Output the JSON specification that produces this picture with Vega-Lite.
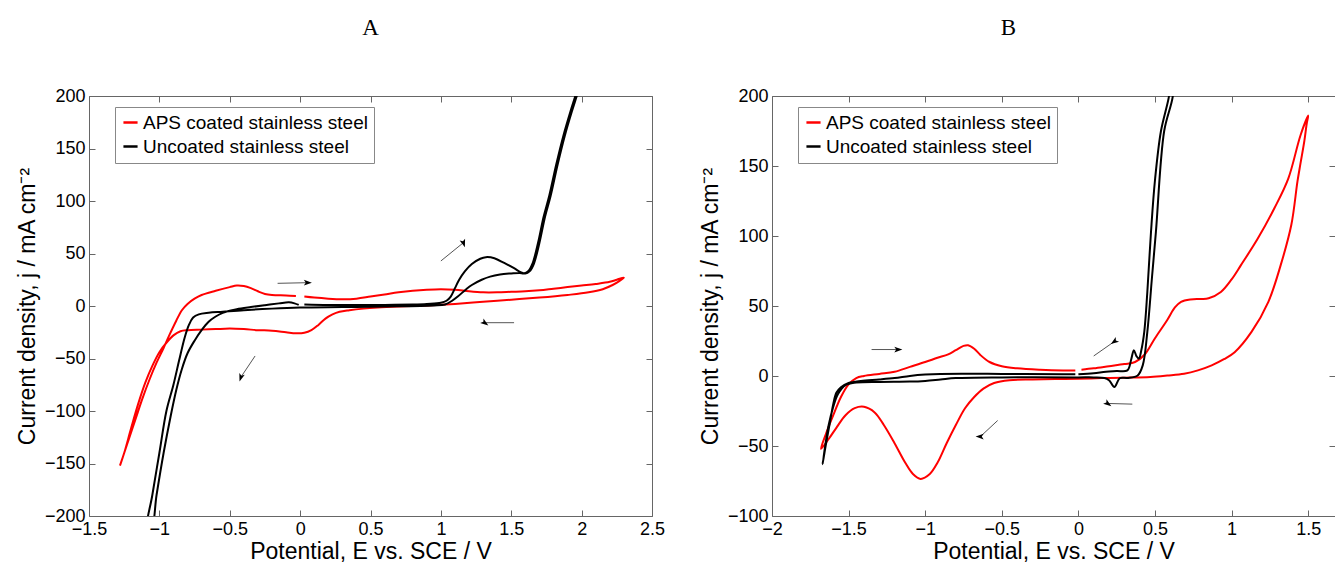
{
  "$schema": "https://vega.github.io/schema/vega-lite/v6.json",
  "background": "white",
  "padding": {"left": 16, "top": 17, "right": 0, "bottom": 0},
  "bounds": "flush",
  "spacing": 120,
  "datasets": {
    "cvA": [
      {"series":"APS coated stainless steel","E":0.03,"j":9},{"series":"APS coated stainless steel","E":0.1,"j":8},{"series":"APS coated stainless steel","E":0.2,"j":7},{"series":"APS coated stainless steel","E":0.3,"j":6.5},{"series":"APS coated stainless steel","E":0.4,"j":7},{"series":"APS coated stainless steel","E":0.5,"j":9},{"series":"APS coated stainless steel","E":0.6,"j":11},{"series":"APS coated stainless steel","E":0.7,"j":13},{"series":"APS coated stainless steel","E":0.8,"j":14.5},{"series":"APS coated stainless steel","E":0.9,"j":15.5},{"series":"APS coated stainless steel","E":1.0,"j":16},{"series":"APS coated stainless steel","E":1.1,"j":15.5},{"series":"APS coated stainless steel","E":1.2,"j":14},{"series":"APS coated stainless steel","E":1.3,"j":13},{"series":"APS coated stainless steel","E":1.4,"j":13},{"series":"APS coated stainless steel","E":1.5,"j":13.5},{"series":"APS coated stainless steel","E":1.6,"j":14},{"series":"APS coated stainless steel","E":1.7,"j":15},{"series":"APS coated stainless steel","E":1.8,"j":16.5},{"series":"APS coated stainless steel","E":1.9,"j":18},{"series":"APS coated stainless steel","E":2.0,"j":19.5},{"series":"APS coated stainless steel","E":2.1,"j":21},{"series":"APS coated stainless steel","E":2.2,"j":23},{"series":"APS coated stainless steel","E":2.25,"j":25},{"series":"APS coated stainless steel","E":2.3,"j":27},
      {"series":"APS coated stainless steel","E":2.27,"j":24},{"series":"APS coated stainless steel","E":2.22,"j":20},{"series":"APS coated stainless steel","E":2.15,"j":16},{"series":"APS coated stainless steel","E":2.05,"j":13},{"series":"APS coated stainless steel","E":1.9,"j":10.5},{"series":"APS coated stainless steel","E":1.7,"j":8},{"series":"APS coated stainless steel","E":1.5,"j":6},{"series":"APS coated stainless steel","E":1.3,"j":4},{"series":"APS coated stainless steel","E":1.1,"j":2},{"series":"APS coated stainless steel","E":0.9,"j":0.5},{"series":"APS coated stainless steel","E":0.7,"j":-0.5},{"series":"APS coated stainless steel","E":0.55,"j":-1.5},{"series":"APS coated stainless steel","E":0.45,"j":-2.5},{"series":"APS coated stainless steel","E":0.35,"j":-4},{"series":"APS coated stainless steel","E":0.28,"j":-5.5},{"series":"APS coated stainless steel","E":0.23,"j":-8},{"series":"APS coated stainless steel","E":0.18,"j":-12},{"series":"APS coated stainless steel","E":0.13,"j":-18},{"series":"APS coated stainless steel","E":0.08,"j":-23},{"series":"APS coated stainless steel","E":0.03,"j":-25.5},{"series":"APS coated stainless steel","E":-0.03,"j":-26},{"series":"APS coated stainless steel","E":-0.1,"j":-25},{"series":"APS coated stainless steel","E":-0.2,"j":-23.5},{"series":"APS coated stainless steel","E":-0.3,"j":-23},{"series":"APS coated stainless steel","E":-0.4,"j":-22},{"series":"APS coated stainless steel","E":-0.5,"j":-21.5},{"series":"APS coated stainless steel","E":-0.6,"j":-22},{"series":"APS coated stainless steel","E":-0.7,"j":-22.5},{"series":"APS coated stainless steel","E":-0.8,"j":-23},{"series":"APS coated stainless steel","E":-0.85,"j":-24},{"series":"APS coated stainless steel","E":-0.9,"j":-28},{"series":"APS coated stainless steel","E":-0.95,"j":-35},{"series":"APS coated stainless steel","E":-1.0,"j":-44},{"series":"APS coated stainless steel","E":-1.05,"j":-57},{"series":"APS coated stainless steel","E":-1.1,"j":-73},{"series":"APS coated stainless steel","E":-1.15,"j":-93},{"series":"APS coated stainless steel","E":-1.2,"j":-116},{"series":"APS coated stainless steel","E":-1.25,"j":-140},{"series":"APS coated stainless steel","E":-1.28,"j":-152},
      {"series":"APS coated stainless steel","E":-1.26,"j":-144},{"series":"APS coated stainless steel","E":-1.22,"j":-128},{"series":"APS coated stainless steel","E":-1.17,"j":-108},{"series":"APS coated stainless steel","E":-1.12,"j":-88},{"series":"APS coated stainless steel","E":-1.07,"j":-70},{"series":"APS coated stainless steel","E":-1.02,"j":-54},{"series":"APS coated stainless steel","E":-0.97,"j":-40},{"series":"APS coated stainless steel","E":-0.93,"j":-28},{"series":"APS coated stainless steel","E":-0.88,"j":-14},{"series":"APS coated stainless steel","E":-0.84,"j":-4},{"series":"APS coated stainless steel","E":-0.8,"j":2},{"series":"APS coated stainless steel","E":-0.75,"j":7},{"series":"APS coated stainless steel","E":-0.7,"j":10.5},{"series":"APS coated stainless steel","E":-0.6,"j":14.5},{"series":"APS coated stainless steel","E":-0.5,"j":18},{"series":"APS coated stainless steel","E":-0.45,"j":19.5},{"series":"APS coated stainless steel","E":-0.4,"j":19},{"series":"APS coated stainless steel","E":-0.35,"j":17},{"series":"APS coated stainless steel","E":-0.3,"j":14},{"series":"APS coated stainless steel","E":-0.25,"j":11.5},{"series":"APS coated stainless steel","E":-0.2,"j":10.5},{"series":"APS coated stainless steel","E":-0.1,"j":10},{"series":"APS coated stainless steel","E":-0.03,"j":9.5},
      {"series":"Uncoated stainless steel","E":0.03,"j":1.5},{"series":"Uncoated stainless steel","E":0.2,"j":1},{"series":"Uncoated stainless steel","E":0.4,"j":1},{"series":"Uncoated stainless steel","E":0.6,"j":1},{"series":"Uncoated stainless steel","E":0.8,"j":1.5},{"series":"Uncoated stainless steel","E":0.9,"j":2},{"series":"Uncoated stainless steel","E":1.0,"j":3},{"series":"Uncoated stainless steel","E":1.04,"j":5},{"series":"Uncoated stainless steel","E":1.07,"j":9},{"series":"Uncoated stainless steel","E":1.1,"j":17},{"series":"Uncoated stainless steel","E":1.13,"j":25},{"series":"Uncoated stainless steel","E":1.17,"j":33},{"series":"Uncoated stainless steel","E":1.22,"j":40},{"series":"Uncoated stainless steel","E":1.28,"j":45},{"series":"Uncoated stainless steel","E":1.32,"j":46.5},{"series":"Uncoated stainless steel","E":1.38,"j":45.5},{"series":"Uncoated stainless steel","E":1.45,"j":41},{"series":"Uncoated stainless steel","E":1.52,"j":36},{"series":"Uncoated stainless steel","E":1.57,"j":32},{"series":"Uncoated stainless steel","E":1.6,"j":31},{"series":"Uncoated stainless steel","E":1.63,"j":33},{"series":"Uncoated stainless steel","E":1.66,"j":40},{"series":"Uncoated stainless steel","E":1.7,"j":60},{"series":"Uncoated stainless steel","E":1.74,"j":85},{"series":"Uncoated stainless steel","E":1.78,"j":105},{"series":"Uncoated stainless steel","E":1.83,"j":135},{"series":"Uncoated stainless steel","E":1.88,"j":162},{"series":"Uncoated stainless steel","E":1.93,"j":185},{"series":"Uncoated stainless steel","E":1.97,"j":202},{"series":"Uncoated stainless steel","E":2.01,"j":220},
      {"series":"Uncoated stainless steel","E":2.0,"j":220},{"series":"Uncoated stainless steel","E":1.96,"j":202},{"series":"Uncoated stainless steel","E":1.92,"j":185},{"series":"Uncoated stainless steel","E":1.87,"j":162},{"series":"Uncoated stainless steel","E":1.82,"j":135},{"series":"Uncoated stainless steel","E":1.77,"j":105},{"series":"Uncoated stainless steel","E":1.73,"j":85},{"series":"Uncoated stainless steel","E":1.69,"j":60},{"series":"Uncoated stainless steel","E":1.65,"j":40},{"series":"Uncoated stainless steel","E":1.62,"j":33},{"series":"Uncoated stainless steel","E":1.59,"j":31},{"series":"Uncoated stainless steel","E":1.56,"j":31.5},{"series":"Uncoated stainless steel","E":1.5,"j":31},{"series":"Uncoated stainless steel","E":1.42,"j":30},{"series":"Uncoated stainless steel","E":1.35,"j":28},{"series":"Uncoated stainless steel","E":1.29,"j":25},{"series":"Uncoated stainless steel","E":1.22,"j":20},{"series":"Uncoated stainless steel","E":1.18,"j":16},{"series":"Uncoated stainless steel","E":1.12,"j":9},{"series":"Uncoated stainless steel","E":1.08,"j":5},{"series":"Uncoated stainless steel","E":1.03,"j":1.5},{"series":"Uncoated stainless steel","E":0.95,"j":0.5},{"series":"Uncoated stainless steel","E":0.6,"j":-0.5},{"series":"Uncoated stainless steel","E":0.3,"j":-1},{"series":"Uncoated stainless steel","E":0,"j":-1.5},{"series":"Uncoated stainless steel","E":-0.2,"j":-2.5},{"series":"Uncoated stainless steel","E":-0.4,"j":-4},{"series":"Uncoated stainless steel","E":-0.55,"j":-5.5},{"series":"Uncoated stainless steel","E":-0.65,"j":-6.5},{"series":"Uncoated stainless steel","E":-0.72,"j":-8},{"series":"Uncoated stainless steel","E":-0.76,"j":-11},{"series":"Uncoated stainless steel","E":-0.79,"j":-18},{"series":"Uncoated stainless steel","E":-0.82,"j":-30},{"series":"Uncoated stainless steel","E":-0.86,"j":-52},{"series":"Uncoated stainless steel","E":-0.9,"j":-75},{"series":"Uncoated stainless steel","E":-0.95,"j":-100},{"series":"Uncoated stainless steel","E":-1.0,"j":-140},{"series":"Uncoated stainless steel","E":-1.05,"j":-180},{"series":"Uncoated stainless steel","E":-1.09,"j":-215},
      {"series":"Uncoated stainless steel","E":-1.06,"j":-215},{"series":"Uncoated stainless steel","E":-1.02,"j":-180},{"series":"Uncoated stainless steel","E":-0.97,"j":-140},{"series":"Uncoated stainless steel","E":-0.92,"j":-105},{"series":"Uncoated stainless steel","E":-0.88,"j":-80},{"series":"Uncoated stainless steel","E":-0.84,"j":-60},{"series":"Uncoated stainless steel","E":-0.8,"j":-45},{"series":"Uncoated stainless steel","E":-0.75,"j":-33},{"series":"Uncoated stainless steel","E":-0.7,"j":-23},{"series":"Uncoated stainless steel","E":-0.65,"j":-15},{"series":"Uncoated stainless steel","E":-0.6,"j":-10},{"series":"Uncoated stainless steel","E":-0.55,"j":-6.5},{"series":"Uncoated stainless steel","E":-0.5,"j":-4.5},{"series":"Uncoated stainless steel","E":-0.45,"j":-3},{"series":"Uncoated stainless steel","E":-0.35,"j":-1},{"series":"Uncoated stainless steel","E":-0.25,"j":0.8},{"series":"Uncoated stainless steel","E":-0.15,"j":2.5},{"series":"Uncoated stainless steel","E":-0.08,"j":3.5},{"series":"Uncoated stainless steel","E":-0.04,"j":2.5},{"series":"Uncoated stainless steel","E":-0.01,"j":1}
    ],
    "cvB": [
      {"series":"APS coated stainless steel","E":0.02,"j":4.5},{"series":"APS coated stainless steel","E":0.1,"j":5.5},{"series":"APS coated stainless steel","E":0.2,"j":7},{"series":"APS coated stainless steel","E":0.3,"j":8.5},{"series":"APS coated stainless steel","E":0.37,"j":10},{"series":"APS coated stainless steel","E":0.43,"j":15},{"series":"APS coated stainless steel","E":0.5,"j":27},{"series":"APS coated stainless steel","E":0.58,"j":40},{"series":"APS coated stainless steel","E":0.63,"j":49},{"series":"APS coated stainless steel","E":0.67,"j":53},{"series":"APS coated stainless steel","E":0.73,"j":54.7},{"series":"APS coated stainless steel","E":0.8,"j":55},{"series":"APS coated stainless steel","E":0.85,"j":55.5},{"series":"APS coated stainless steel","E":0.93,"j":60},{"series":"APS coated stainless steel","E":1.0,"j":69},{"series":"APS coated stainless steel","E":1.06,"j":79},{"series":"APS coated stainless steel","E":1.17,"j":98},{"series":"APS coated stainless steel","E":1.28,"j":120},{"series":"APS coated stainless steel","E":1.37,"j":141},{"series":"APS coated stainless steel","E":1.45,"j":172},{"series":"APS coated stainless steel","E":1.5,"j":186},
      {"series":"APS coated stainless steel","E":1.49,"j":180},{"series":"APS coated stainless steel","E":1.475,"j":168},{"series":"APS coated stainless steel","E":1.45,"j":152},{"series":"APS coated stainless steel","E":1.43,"j":139},{"series":"APS coated stainless steel","E":1.39,"j":108},{"series":"APS coated stainless steel","E":1.32,"j":79},{"series":"APS coated stainless steel","E":1.24,"j":53},{"series":"APS coated stainless steel","E":1.13,"j":31.5},{"series":"APS coated stainless steel","E":1.02,"j":17},{"series":"APS coated stainless steel","E":0.95,"j":12},{"series":"APS coated stainless steel","E":0.87,"j":7.6},{"series":"APS coated stainless steel","E":0.78,"j":4},{"series":"APS coated stainless steel","E":0.69,"j":1.6},{"series":"APS coated stainless steel","E":0.58,"j":0.3},{"series":"APS coated stainless steel","E":0.47,"j":-0.7},{"series":"APS coated stainless steel","E":0.3,"j":-1.2},{"series":"APS coated stainless steel","E":0.15,"j":-1.5},{"series":"APS coated stainless steel","E":0,"j":-2},{"series":"APS coated stainless steel","E":-0.15,"j":-2.2},{"series":"APS coated stainless steel","E":-0.3,"j":-2.5},{"series":"APS coated stainless steel","E":-0.45,"j":-3},{"series":"APS coated stainless steel","E":-0.55,"j":-5},{"series":"APS coated stainless steel","E":-0.62,"j":-9},{"series":"APS coated stainless steel","E":-0.68,"j":-15},{"series":"APS coated stainless steel","E":-0.74,"j":-23},{"series":"APS coated stainless steel","E":-0.8,"j":-35},{"series":"APS coated stainless steel","E":-0.86,"j":-48},{"series":"APS coated stainless steel","E":-0.92,"j":-62},{"series":"APS coated stainless steel","E":-0.97,"j":-70},{"series":"APS coated stainless steel","E":-1.03,"j":-73.5},{"series":"APS coated stainless steel","E":-1.08,"j":-70},{"series":"APS coated stainless steel","E":-1.13,"j":-62},{"series":"APS coated stainless steel","E":-1.2,"j":-48},{"series":"APS coated stainless steel","E":-1.27,"j":-35},{"series":"APS coated stainless steel","E":-1.33,"j":-26},{"series":"APS coated stainless steel","E":-1.4,"j":-22},{"series":"APS coated stainless steel","E":-1.46,"j":-23},{"series":"APS coated stainless steel","E":-1.52,"j":-28},{"series":"APS coated stainless steel","E":-1.58,"j":-37},{"series":"APS coated stainless steel","E":-1.63,"j":-45},{"series":"APS coated stainless steel","E":-1.68,"j":-52},
      {"series":"APS coated stainless steel","E":-1.65,"j":-42},{"series":"APS coated stainless steel","E":-1.6,"j":-28},{"series":"APS coated stainless steel","E":-1.55,"j":-15},{"series":"APS coated stainless steel","E":-1.5,"j":-6},{"series":"APS coated stainless steel","E":-1.45,"j":-1.5},{"series":"APS coated stainless steel","E":-1.4,"j":0},{"series":"APS coated stainless steel","E":-1.3,"j":1.5},{"series":"APS coated stainless steel","E":-1.2,"j":3},{"series":"APS coated stainless steel","E":-1.1,"j":6.5},{"series":"APS coated stainless steel","E":-1.0,"j":10},{"series":"APS coated stainless steel","E":-0.92,"j":13},{"series":"APS coated stainless steel","E":-0.85,"j":15.5},{"series":"APS coated stainless steel","E":-0.8,"j":18.5},{"series":"APS coated stainless steel","E":-0.75,"j":21.5},{"series":"APS coated stainless steel","E":-0.72,"j":22},{"series":"APS coated stainless steel","E":-0.68,"j":19.5},{"series":"APS coated stainless steel","E":-0.64,"j":15},{"series":"APS coated stainless steel","E":-0.58,"j":10},{"series":"APS coated stainless steel","E":-0.5,"j":7},{"series":"APS coated stainless steel","E":-0.4,"j":5.5},{"series":"APS coated stainless steel","E":-0.25,"j":4.5},{"series":"APS coated stainless steel","E":-0.1,"j":4},{"series":"APS coated stainless steel","E":-0.02,"j":4},
      {"series":"Uncoated stainless steel","E":0.0,"j":1.2},{"series":"Uncoated stainless steel","E":0.1,"j":2},{"series":"Uncoated stainless steel","E":0.18,"j":3},{"series":"Uncoated stainless steel","E":0.25,"j":3.5},{"series":"Uncoated stainless steel","E":0.32,"j":4},{"series":"Uncoated stainless steel","E":0.345,"j":12},{"series":"Uncoated stainless steel","E":0.362,"j":18.4},{"series":"Uncoated stainless steel","E":0.38,"j":14},{"series":"Uncoated stainless steel","E":0.395,"j":12.4},{"series":"Uncoated stainless steel","E":0.41,"j":18},{"series":"Uncoated stainless steel","E":0.43,"j":31.5},{"series":"Uncoated stainless steel","E":0.45,"j":60},{"series":"Uncoated stainless steel","E":0.474,"j":103},{"series":"Uncoated stainless steel","E":0.5,"j":140},{"series":"Uncoated stainless steel","E":0.539,"j":175},{"series":"Uncoated stainless steel","E":0.59,"j":199},{"series":"Uncoated stainless steel","E":0.61,"j":215},
      {"series":"Uncoated stainless steel","E":0.625,"j":215},{"series":"Uncoated stainless steel","E":0.615,"j":199},{"series":"Uncoated stainless steel","E":0.56,"j":175},{"series":"Uncoated stainless steel","E":0.506,"j":103},{"series":"Uncoated stainless steel","E":0.48,"j":70},{"series":"Uncoated stainless steel","E":0.45,"j":31.5},{"series":"Uncoated stainless steel","E":0.42,"j":7.6},{"series":"Uncoated stainless steel","E":0.387,"j":0.4},{"series":"Uncoated stainless steel","E":0.32,"j":-1.4},{"series":"Uncoated stainless steel","E":0.27,"j":-1.6},{"series":"Uncoated stainless steel","E":0.235,"j":-7.9},{"series":"Uncoated stainless steel","E":0.2,"j":-3},{"series":"Uncoated stainless steel","E":0.17,"j":-1.4},{"series":"Uncoated stainless steel","E":0.1,"j":-1},{"series":"Uncoated stainless steel","E":0,"j":-1},{"series":"Uncoated stainless steel","E":-0.5,"j":-1},{"series":"Uncoated stainless steel","E":-0.8,"j":-1.5},{"series":"Uncoated stainless steel","E":-0.9,"j":-2.5},{"series":"Uncoated stainless steel","E":-1.0,"j":-3.5},{"series":"Uncoated stainless steel","E":-1.1,"j":-4},{"series":"Uncoated stainless steel","E":-1.3,"j":-4.2},{"series":"Uncoated stainless steel","E":-1.45,"j":-4.7},{"series":"Uncoated stainless steel","E":-1.52,"j":-6.5},{"series":"Uncoated stainless steel","E":-1.57,"j":-13},{"series":"Uncoated stainless steel","E":-1.6,"j":-22},{"series":"Uncoated stainless steel","E":-1.63,"j":-35},{"series":"Uncoated stainless steel","E":-1.65,"j":-48},{"series":"Uncoated stainless steel","E":-1.67,"j":-63},
      {"series":"Uncoated stainless steel","E":-1.65,"j":-50},{"series":"Uncoated stainless steel","E":-1.62,"j":-32},{"series":"Uncoated stainless steel","E":-1.6,"j":-20},{"series":"Uncoated stainless steel","E":-1.58,"j":-12},{"series":"Uncoated stainless steel","E":-1.55,"j":-8},{"series":"Uncoated stainless steel","E":-1.5,"j":-5},{"series":"Uncoated stainless steel","E":-1.42,"j":-3.5},{"series":"Uncoated stainless steel","E":-1.3,"j":-2.5},{"series":"Uncoated stainless steel","E":-1.2,"j":-1.5},{"series":"Uncoated stainless steel","E":-1.1,"j":0},{"series":"Uncoated stainless steel","E":-1.0,"j":1},{"series":"Uncoated stainless steel","E":-0.9,"j":1.5},{"series":"Uncoated stainless steel","E":-0.5,"j":1.5},{"series":"Uncoated stainless steel","E":-0.1,"j":1.2},{"series":"Uncoated stainless steel","E":-0.02,"j":1.2}
    ],
    "arrA": [
      {"x1":-0.16,"y1":21.6,"x2":0.05,"y2":22.2,"dir":"r"},
      {"x1":1.0,"y1":42.9,"x2":1.16,"y2":60.3,"dir":"urA"},
      {"x1":1.52,"y1":-15.9,"x2":1.31,"y2":-15.9,"dir":"l"},
      {"x1":-0.32,"y1":-47.6,"x2":-0.42,"y2":-67.6,"dir":"dlA"}
    ],
    "arrB": [
      {"x1":-1.35,"y1":18.9,"x2":-1.18,"y2":18.9,"dir":"r"},
      {"x1":0.1,"y1":14.3,"x2":0.237,"y2":24.8,"dir":"urB"},
      {"x1":0.352,"y1":-20.1,"x2":0.19,"y2":-19.6,"dir":"l"},
      {"x1":-0.527,"y1":-31.8,"x2":-0.64,"y2":-43.3,"dir":"dlB"}
    ]
  },
  "hconcat": [
    {
      "title": {"text": "A", "offset": 47},
      "width": 563,
      "height": 420,
      "layer": [
        {
          "data": {"name": "cvA"},
          "mark": {"type": "line", "strokeWidth": 2, "clip": true, "interpolate": "catmull-rom"},
          "encoding": {
            "x": {"field": "E", "type": "quantitative", "scale": {"domain": [-1.5, 2.5], "nice": false, "zero": false},
                  "axis": {"orient": "bottom", "values": [-1.5,-1,-0.5,0,0.5,1,1.5,2,2.5], "format": "~f", "title": "Potential, E vs. SCE / V", "titlePadding": 2, "labelPadding": 10}},
            "y": {"field": "j", "type": "quantitative", "scale": {"domain": [-200, 200], "nice": false, "zero": false},
                  "axis": {"orient": "left", "values": [-200,-150,-100,-50,0,50,100,150,200], "format": "~f", "title": "Current density, j / mA cm⁻²", "titlePadding": 5}},
            "color": {"field": "series", "type": "nominal",
                      "scale": {"domain": ["APS coated stainless steel", "Uncoated stainless steel"], "range": ["#ff0000", "#000000"]},
                      "legend": {"orient": "none", "legendX": 26, "legendY": 11}},
            "order": {"value": null}
          }
        },
        {
          "data": {"name": "arrA"},
          "mark": {"type": "rule", "color": "#555555", "strokeWidth": 1},
          "encoding": {
            "x": {"field": "x1", "type": "quantitative", "axis": {"orient": "top", "values": [-1.5,-1,-0.5,0,0.5,1,1.5,2,2.5], "labels": false, "title": null}},
            "y": {"field": "y1", "type": "quantitative", "axis": {"orient": "right", "values": [-200,-150,-100,-50,0,50,100,150,200], "labels": false, "title": null}},
            "x2": {"field": "x2"},
            "y2": {"field": "y2"}
          }
        },
        {
          "data": {"name": "arrA"},
          "mark": {"type": "point", "filled": true, "color": "#000000", "opacity": 1, "size": 90, "shape": "M0,-1L0.6,0.7L0,0.3L-0.6,0.7Z"},
          "encoding": {
            "x": {"field": "x2", "type": "quantitative", "axis": null},
            "y": {"field": "y2", "type": "quantitative", "axis": null},
            "angle": {"field": "dir", "type": "nominal", "scale": {"domain": ["r","l","urA","dlA","urB","dlB"], "range": [90,270,52,214,56,227]}, "legend": null}
          }
        }
      ],
      "resolve": {"axis": {"x": "independent", "y": "independent"}}
    },
    {
      "title": {"text": "B", "offset": 47, "dx": -45},
      "width": 563,
      "height": 420,
      "layer": [
        {
          "data": {"name": "cvB"},
          "mark": {"type": "line", "strokeWidth": 2, "clip": true, "interpolate": "catmull-rom"},
          "encoding": {
            "x": {"field": "E", "type": "quantitative", "scale": {"domain": [-2, 1.675], "nice": false, "zero": false},
                  "axis": {"orient": "bottom", "values": [-2,-1.5,-1,-0.5,0,0.5,1,1.5], "format": "~f", "title": "Potential, E vs. SCE / V", "titlePadding": 2, "labelPadding": 10}},
            "y": {"field": "j", "type": "quantitative", "scale": {"domain": [-100, 200], "nice": false, "zero": false},
                  "axis": {"orient": "left", "values": [-100,-50,0,50,100,150,200], "format": "~f", "title": "Current density, j / mA cm⁻²", "titlePadding": 5}},
            "color": {"field": "series", "type": "nominal",
                      "scale": {"domain": ["APS coated stainless steel", "Uncoated stainless steel"], "range": ["#ff0000", "#000000"]},
                      "legend": {"orient": "none", "legendX": 26, "legendY": 11}},
            "order": {"value": null}
          }
        },
        {
          "data": {"name": "arrB"},
          "mark": {"type": "rule", "color": "#555555", "strokeWidth": 1},
          "encoding": {
            "x": {"field": "x1", "type": "quantitative", "axis": {"orient": "top", "values": [-2,-1.5,-1,-0.5,0,0.5,1,1.5], "labels": false, "title": null}},
            "y": {"field": "y1", "type": "quantitative", "axis": {"orient": "right", "values": [-100,-50,0,50,100,150,200], "labels": false, "title": null}},
            "x2": {"field": "x2"},
            "y2": {"field": "y2"}
          }
        },
        {
          "data": {"name": "arrB"},
          "mark": {"type": "point", "filled": true, "color": "#000000", "opacity": 1, "size": 90, "shape": "M0,-1L0.6,0.7L0,0.3L-0.6,0.7Z"},
          "encoding": {
            "x": {"field": "x2", "type": "quantitative", "axis": null},
            "y": {"field": "y2", "type": "quantitative", "axis": null},
            "angle": {"field": "dir", "type": "nominal", "scale": {"domain": ["r","l","urA","dlA","urB","dlB"], "range": [90,270,52,214,56,227]}, "legend": null}
          }
        }
      ],
      "resolve": {"axis": {"x": "independent", "y": "independent"}}
    }
  ],
  "resolve": {"legend": {"color": "independent"}},
  "config": {
    "view": {"stroke": null},
    "font": "Liberation Sans",
    "axis": {
      "labelFont": "Liberation Sans", "labelFontSize": 18, "labelColor": "#000000",
      "titleFont": "Liberation Sans", "titleFontSize": 23, "titleFontWeight": "normal", "titleColor": "#000000",
      "grid": false, "domainColor": "#666666", "tickColor": "#666666", "tickSize": -6, "labelPadding": 10,
      "labelFlush": false, "labelOverlap": false
    },
    "legend": {
      "title": null, "strokeColor": "#888888", "fillColor": "#ffffff", "padding": 6, "cornerRadius": 0,
      "symbolType": "stroke", "symbolStrokeWidth": 2.5, "symbolSize": 200, "labelLimit": 0,
      "labelFont": "Liberation Sans", "labelFontSize": 19, "labelColor": "#000000", "rowPadding": 4, "labelOffset": 3
    },
    "title": {"font": "Liberation Serif", "fontSize": 23, "fontWeight": "normal", "color": "#000000", "anchor": "middle"}
  }
}
